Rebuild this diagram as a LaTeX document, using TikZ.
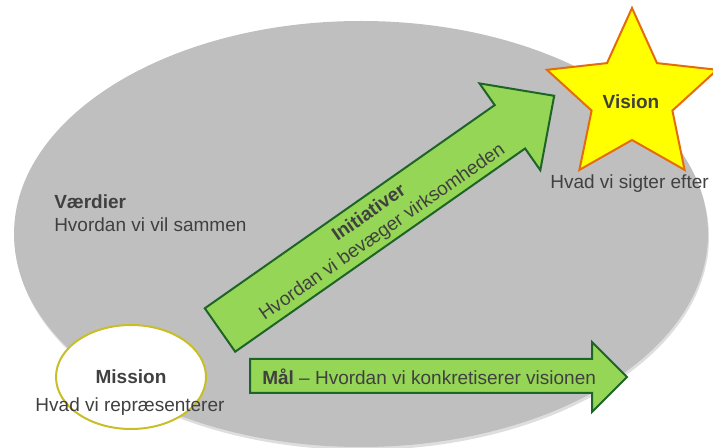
\documentclass[tikz,border=0pt]{standalone}
\usepackage{fontspec}
\setmainfont{Liberation Sans}
\usepackage{tikz}
\usetikzlibrary{shapes}

\begin{document}
\begin{tikzpicture}[x=0.75pt,y=0.75pt,yscale=-1,xscale=1,
  txt/.style={inner sep=0.75pt, text={rgb, 255:red, 64; green, 64; blue, 64 }, font=\fontsize{14.25}{17.25}\selectfont},
  txtb/.style={txt, font=\fontsize{14.25}{17.25}\selectfont\bfseries},
  greenarrow/.style={draw={rgb, 255:red, 30; green, 100; blue, 40 }, fill={rgb, 255:red, 150; green, 214; blue, 86 }, line width=1.5, line join=miter}]
\useasboundingbox (0,0) rectangle (713,448);
\clip (0,0) rectangle (713,448);

%Shape: Ellipse [id:ell_shadow]
\fill [color={rgb, 255:red, 222; green, 222; blue, 222 }]  (362,237) ellipse [x radius=347, y radius=213];
%Shape: Ellipse [id:ell_vaerdier]
\fill [color={rgb, 255:red, 191; green, 191; blue, 191 }]  (361,234) ellipse [x radius=347, y radius=213];

%Shape: Right Arrow [id:arr_initiativer]
\draw [greenarrow]  (204.8,308.3) -- (494.7,105.1) -- (479.5,83.4) -- (554.2,95.8) -- (540.3,170.2) -- (525.1,148.5) -- (235.2,351.7) -- cycle ;
%Shape: Right Arrow [id:arr_maal]
\draw [greenarrow]  (250,359) -- (592,359) -- (592,342) -- (627,377) -- (592,412) -- (592,393) -- (250,393) -- cycle ;

%Shape: Ellipse [id:ell_mission]
\draw [color={rgb, 255:red, 200; green, 190; blue, 40 }, fill=white, line width=1.5]  (131,377) ellipse [x radius=75, y radius=52];

%Shape: Star [id:star_vision]
\draw [color={rgb, 255:red, 228; green, 108; blue, 10 }, fill={rgb, 255:red, 255; green, 255; blue, 0 }, line width=1.5, line join=miter]  (632,8) -- (657,63.1) -- (717.1,69.8) -- (672.4,110.6) -- (684.6,169.9) -- (632,140) -- (579.4,169.9) -- (591.6,110.6) -- (546.9,69.8) -- (607,63.1) -- cycle ;

% Text Node
\draw (53,202) node (vaerdier) [anchor=west][txtb] {V\ae rdier};
% Text Node
\draw (53,225) node (vaerdiertxt) [anchor=west][txt] {Hvordan vi vil sammen};
% Text Node
\draw (376,223) node (initiativer) [txt, align=center, rotate=35] {\textbf{Initiativer}\\Hvordan vi bev\ae ger virksomheden};
% Text Node
\draw (261,377) node (maal) [anchor=west][txt] {\textbf{M\aa l} -- Hvordan vi konkretiserer visionen};
% Text Node
\draw (131,377) node (mission) [txtb] {Mission};
% Text Node
\draw (130,407) node (missiontxt) [txt] {Hvad vi repr\ae senterer};
% Text Node
\draw (631,102) node (vision) [txtb] {Vision};
% Text Node
\draw (629.5,184) node (visiontxt) [txt] {Hvad vi sigter efter};

\end{tikzpicture}
\end{document}
